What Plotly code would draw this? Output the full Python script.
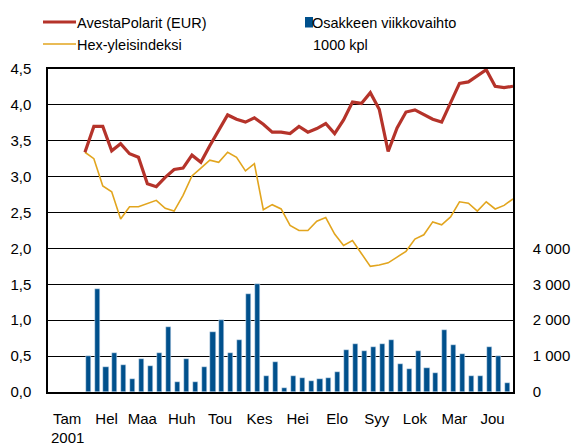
import pandas as pd
import plotly.graph_objects as go

# ---- data ----
avesta = [3.34, 3.70, 3.70, 3.36, 3.46, 3.32, 3.27, 2.90, 2.86, 2.99,
          3.10, 3.12, 3.30, 3.20, 3.43, 3.65, 3.86, 3.80, 3.76, 3.82,
          3.73, 3.62, 3.62, 3.60, 3.70, 3.62, 3.67, 3.74, 3.60, 3.79,
          4.04, 4.02, 4.17, 3.94, 3.35, 3.68, 3.90, 3.93, 3.86, 3.80,
          3.76, 4.03, 4.30, 4.32, 4.41, 4.49, 4.26, 4.24, 4.26]
hex_index = [3.34, 3.25, 2.87, 2.79, 2.41, 2.58, 2.58, 2.63, 2.67, 2.56,
             2.52, 2.74, 3.01, 3.12, 3.23, 3.20, 3.34, 3.27, 3.08, 3.18,
             2.54, 2.61, 2.55, 2.32, 2.25, 2.25, 2.38, 2.43, 2.20, 2.04,
             2.11, 1.93, 1.75, 1.77, 1.80, 1.88, 1.96, 2.13, 2.19, 2.37,
             2.33, 2.44, 2.65, 2.63, 2.52, 2.65, 2.55, 2.60, 2.69]
volume = [1010, 2880, 690, 1100, 740, 350, 910, 715, 1100, 1800,
          270, 910, 270, 690, 1660, 2000, 1075, 1440, 2720, 3000,
          435, 825, 100, 435, 380, 295, 350, 380, 545, 1180,
          1345, 1150, 1260, 1345, 1455, 790, 630, 1150, 675, 540,
          1735, 1320, 1065, 455, 455, 1260, 1000, 260]
line_dates = pd.date_range("2001-01-30", periods=len(avesta), freq="7D")
bar_dates = pd.date_range("2001-02-01 12:00", periods=len(volume), freq="7D")
month_labels = ["Tam", "Hel", "Maa", "Huh", "Tou", "Kes",
                "Hei", "Elo", "Syy", "Lok", "Mar", "Jou"]
year_label = "2001"
month_ticks = [f"2001-{m:02d}-16" for m in range(1, 13)]
left_ticks = [0, 0.5, 1.0, 1.5, 2.0, 2.5, 3.0, 3.5, 4.0, 4.5]
right_ticks = [0, 1000, 2000, 3000, 4000]

RED = "#B5332A"
GOLD = "#E2A51E"
BLUE = "#00508C"
FONT = "Liberation Sans, Arial, sans-serif"

W, H = 571, 445
L, R, T, B = 48, 58, 69, 53
pw, ph = W - L - R, H - T - B


def px(x):
    return (x - L) / pw


def py(y):
    return (H - B - y) / ph


fig = go.Figure()
fig.add_trace(go.Bar(x=bar_dates, y=volume, yaxis="y2", marker_color=BLUE,
                     width=4 * 86400000, name="Osakkeen viikkovaihto"))
fig.add_trace(go.Scatter(x=line_dates, y=hex_index, mode="lines",
                         line=dict(color=GOLD, width=1.6), name="Hex-yleisindeksi"))
fig.add_trace(go.Scatter(x=line_dates, y=avesta, mode="lines",
                         line=dict(color=RED, width=3.2), name="AvestaPolarit (EUR)"))

shapes = [
    dict(type="line", xref="paper", yref="paper", x0=px(43), x1=px(76),
         y0=py(22), y1=py(22), line=dict(color=RED, width=3)),
    dict(type="line", xref="paper", yref="paper", x0=px(43), x1=px(76),
         y0=py(44), y1=py(44), line=dict(color=GOLD, width=1.6)),
    dict(type="rect", xref="paper", yref="paper", x0=px(305), x1=px(313),
         y0=py(27.5), y1=py(17), fillcolor=BLUE, line=dict(width=0)),
]
ann = []
for text, x, y in [("AvestaPolarit (EUR)", 75, 23), ("Hex-yleisindeksi", 75, 45),
                   ("Osakkeen viikkovaihto", 310, 23), ("1000 kpl", 311, 45)]:
    ann.append(dict(text=text, x=px(x), y=py(y), xref="paper", yref="paper",
                    xanchor="left", yanchor="middle", showarrow=False,
                    font=dict(size=14.5, color="black", family=FONT)))
ann.append(dict(text=year_label, x=month_ticks[0], xref="x", y=py(437),
                yref="paper", xanchor="center", yanchor="middle",
                showarrow=False, borderpad=0,
                font=dict(size=15, color="black", family=FONT)))

fig.update_layout(
    width=W, height=H,
    margin=dict(l=L, r=R, t=T, b=B, autoexpand=False),
    paper_bgcolor="white", plot_bgcolor="white",
    separators=", ",
    showlegend=False,
    font=dict(family=FONT, size=15, color="black"),
    shapes=shapes, annotations=ann,
    bargap=0,
    xaxis=dict(type="date", range=["2001-01-01", "2002-01-01"],
               tickvals=month_ticks, ticktext=month_labels, automargin=False,
               showgrid=False, showline=True, linecolor="black", linewidth=1.5,
               mirror=True, ticks="", ticklabelstandoff=12, zeroline=False),
    yaxis=dict(range=[0, 4.5], tickvals=left_ticks, tickformat=".1f",
               automargin=False,
               showgrid=True, gridcolor="black", gridwidth=1,
               showline=True, linecolor="black", linewidth=1.5,
               ticks="", ticklabelstandoff=12, zeroline=False),
    yaxis2=dict(range=[0, 9000], overlaying="y", side="right",
                tickvals=right_ticks, tickformat=",d", automargin=False,
                showgrid=False, showline=True, linecolor="black", linewidth=1.5,
                ticks="", ticklabelstandoff=15, zeroline=False),
)

fig.write_html("out.html",
               config={"displayModeBar": False},
               post_script="document.body.style.margin='0';"
                           "document.body.style.overflow='hidden';")
